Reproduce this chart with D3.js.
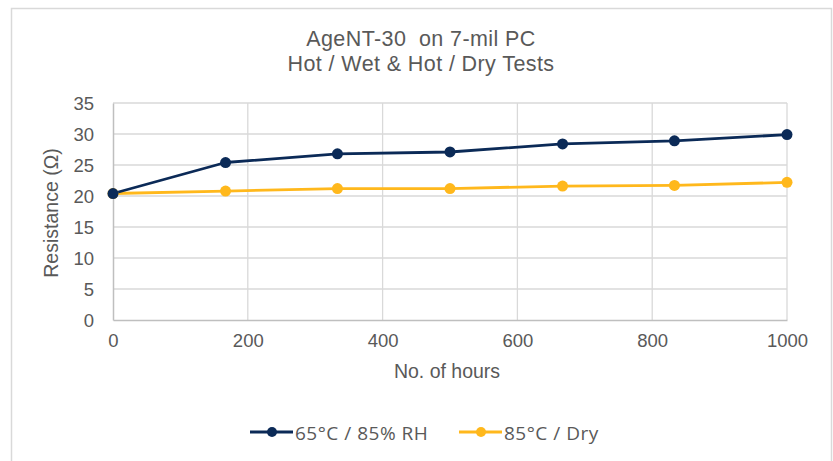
<!DOCTYPE html>
<html>
<head>
<meta charset="utf-8">
<script src="https://cdn.jsdelivr.net/npm/d3@7"></script>
<style>
  html, body { margin: 0; padding: 0; background: #fff; }
  svg { display: block; }
  text { font-family: "Liberation Sans", Arial, sans-serif; fill: #595959; }
</style>
</head>
<body>
<svg id="chart" width="833" height="461"></svg>
<script>
// ---- data ----
const titleLines = ["AgeNT-30  on 7-mil PC", "Hot / Wet & Hot / Dry Tests"];
const hours = [0, 167, 333, 500, 667, 833, 1000];
const wetValues = [20.4, 25.4, 26.8, 27.1, 28.4, 28.9, 29.9];
const dryValues = [20.4, 20.8, 21.2, 21.2, 21.6, 21.7, 22.2];
const seriesNames = ["65°C / 85% RH", "85°C / Dry"];
const seriesColors = ["#0b2a57", "#ffb81c"];
const xTicks = [0, 200, 400, 600, 800, 1000];
const yTicks = [0, 5, 10, 15, 20, 25, 30, 35];
const xTitle = "No. of hours";
const yTitle = "Resistance (Ω)";

const series = [
  { name: seriesNames[0], color: seriesColors[0], values: wetValues },
  { name: seriesNames[1], color: seriesColors[1], values: dryValues }
];

const svg = d3.select("#chart");

// frame
svg.append("rect").attr("x", 11.5).attr("y", 8.5).attr("width", 820).attr("height", 470)
  .attr("fill", "#fff").attr("stroke", "#d9d9d9").attr("stroke-width", 1.5);

const plot = { left: 113, right: 787, top: 103, bottom: 320 };
const x = d3.scaleLinear().domain([0, 1000]).range([plot.left, plot.right]);
const y = d3.scaleLinear().domain([0, 35]).range([plot.bottom, plot.top]);

// title
svg.append("g").selectAll("text").data(titleLines).join("text")
  .attr("x", 421).attr("y", (d, i) => 46 + i * 25)
  .attr("text-anchor", "middle")
  .style("font-size", "21.5px")
  .style("letter-spacing", "0.4px")
  .style("white-space", "pre")
  .text(d => d);

// gridlines
const grid = svg.append("g");
grid.selectAll("line.h").data(yTicks.filter(t => t > 0)).join("line")
  .attr("class", "h")
  .attr("x1", plot.left).attr("x2", plot.right)
  .attr("y1", d => y(d)).attr("y2", d => y(d))
  .attr("stroke", "#d9d9d9").attr("stroke-width", 1.3);
grid.selectAll("line.v").data(xTicks.filter(t => t > 0)).join("line")
  .attr("class", "v")
  .attr("x1", d => x(d)).attr("x2", d => x(d))
  .attr("y1", plot.top).attr("y2", plot.bottom)
  .attr("stroke", "#d9d9d9").attr("stroke-width", 1.3);

// axes
const xAxis = d3.axisBottom(x).tickValues(xTicks).tickSize(0).tickPadding(14).tickFormat(d3.format("d"));
const yAxis = d3.axisLeft(y).tickValues(yTicks).tickSize(0).tickPadding(19).tickFormat(d3.format("d"));

const gx = svg.append("g").attr("transform", `translate(0,${plot.bottom})`).call(xAxis);
const gy = svg.append("g").attr("transform", `translate(${plot.left},0)`).call(yAxis);
[gx, gy].forEach(g => {
  g.select(".domain").attr("stroke", "#bfbfbf").attr("stroke-width", 1.5);
  g.selectAll("text").style("font-size", "18.5px").attr("fill", "#595959")
    .style("font-family", '"Liberation Sans", Arial, sans-serif');
});
gy.selectAll(".tick text").attr("dy", "0.36em");

// axis titles
svg.append("text").attr("x", 447).attr("y", 378).attr("text-anchor", "middle")
  .style("font-size", "19.5px").text(xTitle);
svg.append("text").attr("transform", "translate(58,213) rotate(-90)")
  .attr("text-anchor", "middle").style("font-size", "19.5px").text(yTitle);

// lines
const line = d3.line().x((d, i) => x(hours[i])).y(d => y(d));
const order = [series[1], series[0]];
order.forEach(s => {
  svg.append("path").datum(s.values)
    .attr("fill", "none").attr("stroke", s.color).attr("stroke-width", 2.8)
    .attr("stroke-linejoin", "round").attr("d", line);
});
order.forEach(s => {
  svg.append("g").selectAll("circle").data(s.values).join("circle")
    .attr("cx", (d, i) => x(hours[i])).attr("cy", d => y(d)).attr("r", 5.5)
    .attr("fill", s.color);
});

// legend
const legendX = [250, 459];
const legendY = 432;
series.forEach((s, i) => {
  const g = svg.append("g").attr("transform", `translate(${legendX[i]},${legendY})`);
  g.append("line").attr("x1", 0).attr("x2", 43).attr("y1", 0).attr("y2", 0)
    .attr("stroke", s.color).attr("stroke-width", 2.8);
  g.append("circle").attr("cx", 22).attr("cy", 0).attr("r", 5).attr("fill", s.color);
  g.append("text").attr("x", 45).attr("y", 8)
    .style("font-family", '"Open Sans", "Noto Sans", sans-serif')
    .style("font-size", "19px")
    .style("letter-spacing", "0.5px")
    .text(s.name);
});
</script>
</body>
</html>
